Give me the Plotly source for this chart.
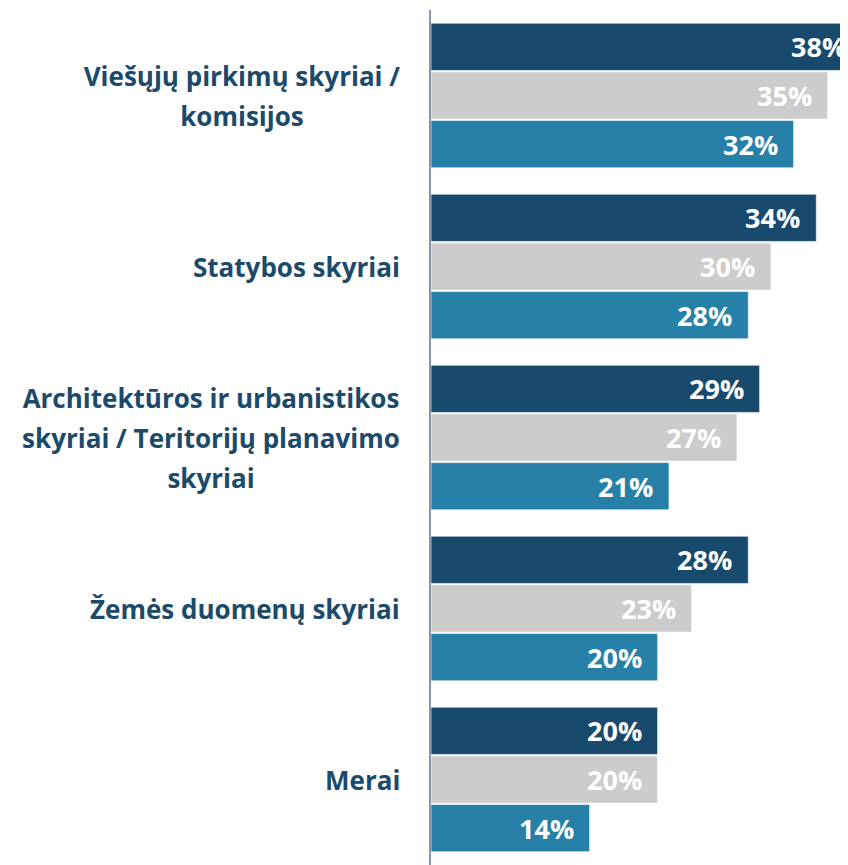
import plotly.graph_objects as go

# categories, top to bottom
categories = [
    "Viešųjų pirkimų skyriai /<br>komisijos",
    "Statybos skyriai",
    "Architektūros ir urbanistikos<br>skyriai / Teritorijų planavimo<br>skyriai",
    "Žemės duomenų skyriai",
    "Merai",
]

# three series, drawn top to bottom in each group
series_a = [38, 34, 29, 28, 20]
series_b = [35, 30, 27, 23, 20]
series_c = [32, 28, 21, 20, 14]

colors = ["#174A6D", "#CCCCCC", "#2680A8"]
label_color = "#1B4A6B"
font_family = "Open Sans, sans-serif"

XMAX = 36.8          # axis end; the longest bar runs past the edge
SLOT = 48.7          # px height of one bar slot inside a group
LINE_GAP = 40        # px between lines of a category label
LABEL_SIZE = 26
BOX_WIDTH = {0: 318, 2: 380}   # px width of the wrapped label blocks

fig = go.Figure()

for i, (name, vals, col) in enumerate(zip(["A", "B", "C"], [series_a, series_b, series_c], colors)):
    fig.add_trace(go.Bar(
        y=categories, x=vals, name=name, orientation="h",
        marker=dict(color=col, line=dict(color="rgba(255,255,255,0.6)", width=1)),
        hoverinfo="x+y",
    ))
    # value labels at the true bar end (paper coords so the clipped one still shows)
    for cat, v in zip(categories, vals):
        fig.add_annotation(
            x=v / XMAX, xref="paper", y=cat, yref="y",
            text=f"<b>{v}%</b>", showarrow=False,
            xanchor="right", yanchor="middle", xshift=-14, yshift=(1 - i) * SLOT,
            font=dict(size=27, color="white", family=font_family),
        )

# category labels: one annotation per line so the line spacing can be set,
# lines of a block centred in a box of the same width
for k, cat in enumerate(categories):
    lines = cat.split("<br>")
    n = len(lines)
    for j, line in enumerate(lines):
        offset = ((n - 1) / 2 - j) * LINE_GAP
        extra = dict(width=BOX_WIDTH[k], align="center") if n > 1 else {}
        fig.add_annotation(
            x=0, xref="paper", y=cat, yref="y",
            text=f"<b>{line}</b>", showarrow=False,
            xanchor="right", yanchor="middle",
            xshift=-29 if n == 1 else -28, yshift=offset,
            font=dict(size=LABEL_SIZE, color=label_color, family=font_family),
            **extra,
        )

# page has an 8px body margin, so the figure is drawn 8px smaller
fig.update_layout(
    width=840, height=857,
    margin=dict(l=423, r=0, t=2, b=0),
    paper_bgcolor="white", plot_bgcolor="white",
    barmode="group", bargap=0.146, bargroupgap=0.03,
    showlegend=False,
    xaxis=dict(range=[0, XMAX], visible=False),
    yaxis=dict(autorange="reversed", showticklabels=False, showline=True,
               linecolor="#8797AB", linewidth=2, ticks="", showgrid=False),
)

fig.write_html("out.html")
